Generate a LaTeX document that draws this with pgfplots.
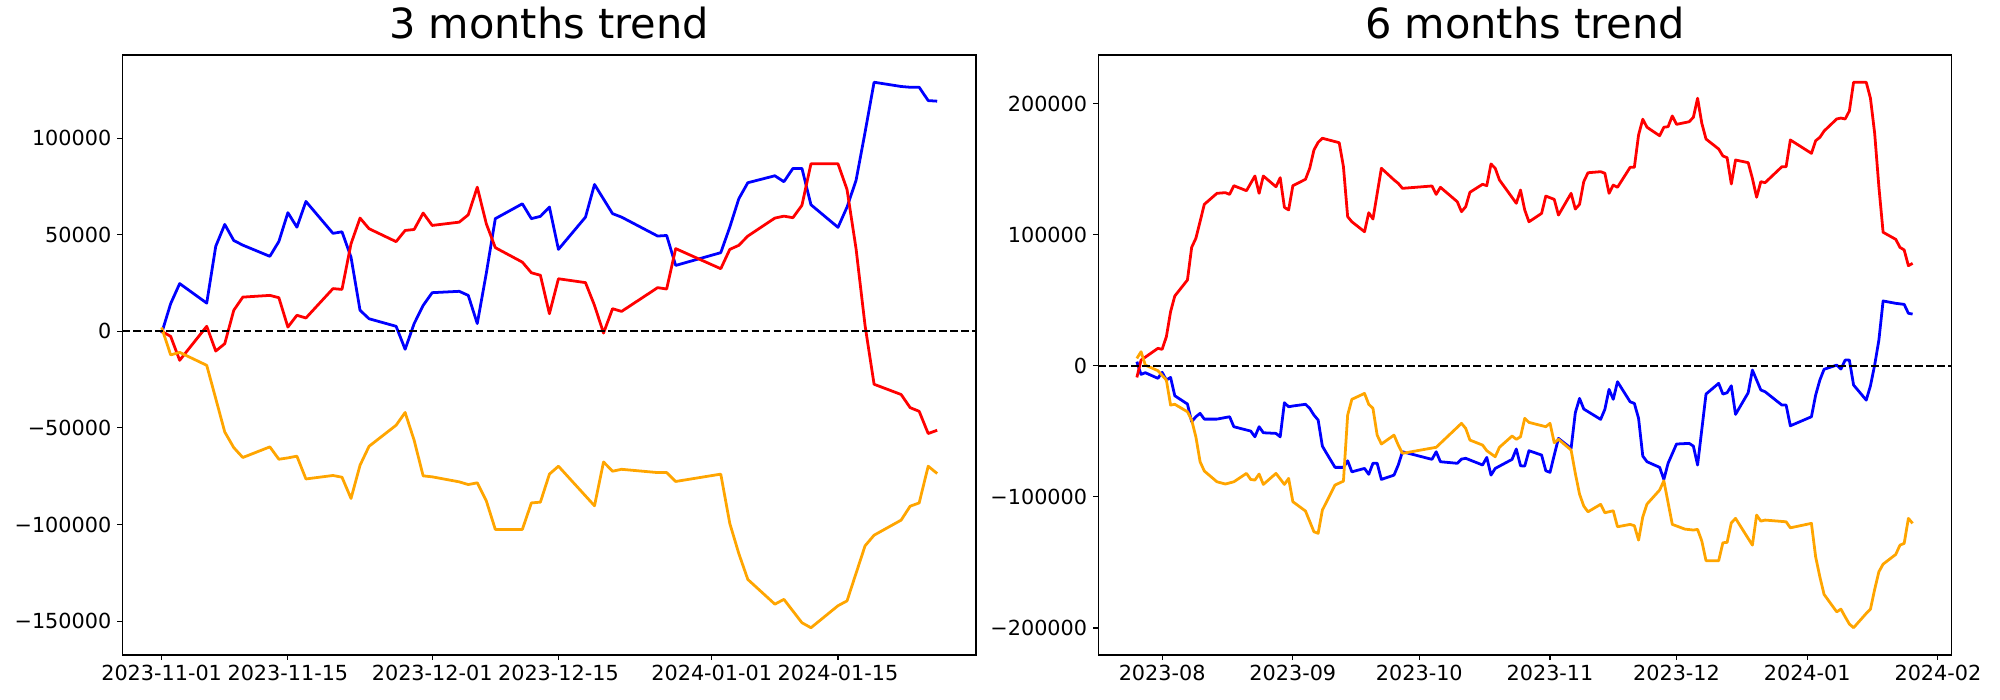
\documentclass[border=0pt]{standalone}
\usepackage{fontspec}
\setmainfont{DejaVu Sans}
\usepackage{pgfplots}
\usepackage{pgfplotstable}
\pgfplotsset{compat=1.18}

\definecolor{mplorange}{RGB}{255,165,0}

% 3 months: day counted from 2023-11-01
\pgfplotstableread{
day val
0 -1000
1 14300
2 24700
5 14600
6 44000
7 55300
8 47000
9 44600
12 38800
13 46500
14 61400
15 53900
16 67200
19 50700
20 51500
21 38400
22 10900
23 6500
26 2600
27 -9300
28 4000
29 13400
30 20000
33 20700
34 18600
35 4000
36 30000
37 58300
40 66000
41 58300
42 59500
43 64300
44 42400
47 59100
48 76000
50 60900
51 59100
55 49300
56 49600
57 34100
62 40700
63 53900
64 68600
65 76900
68 80500
69 77400
70 84300
71 84300
72 65500
75 53800
76 64300
77 78100
78 103000
79 128900
82 126700
83 126300
84 126300
85 119400
86 119100
}\shortblue

\pgfplotstableread{
day val
0 0
1 -2600
2 -15000
5 2600
6 -10200
7 -6400
8 10900
9 17700
12 18600
13 17400
14 2200
15 8300
16 6900
19 22100
20 21700
21 45300
22 58600
23 53100
26 46400
27 52200
28 52700
29 61200
30 54800
33 56500
34 60300
35 74600
36 55700
37 43300
40 35800
41 30300
42 29000
43 9100
44 27200
47 25200
48 13400
49 -900
50 11700
51 10300
55 22600
56 21900
57 42800
62 32400
63 42400
64 44500
65 49300
68 58600
69 59600
70 58800
71 65200
72 86700
75 86700
76 73400
77 42800
78 3000
79 -27400
82 -32700
83 -39500
84 -41400
85 -52900
86 -51200
}\shortred

\pgfplotstableread{
day val
0 2000
1 -12200
2 -10900
5 -17600
6 -34800
7 -52100
8 -60200
9 -65300
12 -59800
13 -66200
14 -65500
15 -64600
16 -76400
19 -74600
20 -75500
21 -86500
22 -69300
23 -59500
26 -48600
27 -42000
28 -56400
29 -74800
30 -75300
33 -77900
34 -79300
35 -78400
36 -87700
37 -102500
40 -102500
41 -88800
42 -88400
43 -73900
44 -69800
48 -90300
49 -67600
50 -72400
51 -71400
55 -73100
56 -73100
57 -77700
62 -73900
63 -99400
64 -115000
65 -128400
68 -141200
69 -138700
71 -150800
72 -153400
75 -142000
76 -139500
78 -111000
79 -105500
82 -97700
83 -90500
84 -88800
85 -69800
86 -73600
}\shortorange

% 6 months: day counted from 2023-08-01
\pgfplotstableread{
day val
-6 3100
-5 -6600
-4 -5300
-1 -9600
0 -5000
1 -10900
2 -8900
3 -22900
6 -29200
7 -42700
8 -38900
9 -36300
10 -40700
13 -40700
16 -38900
17 -46500
20 -49000
21 -49800
22 -54200
23 -46500
24 -51100
27 -51600
28 -54200
29 -28200
30 -31300
31 -30700
34 -29400
35 -32500
36 -37600
37 -41400
38 -61300
39 -66800
41 -77500
43 -77500
44 -72500
45 -80900
48 -78300
49 -82800
50 -74400
51 -74400
52 -86700
55 -83400
56 -75700
57 -65600
64 -71400
65 -65600
66 -73200
70 -74400
71 -71200
72 -70600
76 -75700
77 -69900
78 -83400
79 -78300
83 -71400
84 -63500
85 -76300
86 -76500
87 -64800
90 -68100
91 -80100
92 -81300
93 -68100
94 -55400
97 -63000
98 -35800
99 -24900
100 -33000
104 -40900
105 -33300
106 -18000
107 -25600
108 -12200
111 -27500
112 -28700
113 -40100
114 -68900
115 -73200
118 -77500
119 -86700
120 -74400
122 -59700
125 -59200
126 -61300
127 -75700
129 -21600
132 -13400
133 -21600
134 -20600
135 -15300
136 -37100
139 -20600
140 -3300
142 -18500
143 -19800
147 -30000
148 -30000
149 -45800
154 -38900
155 -22400
156 -10900
157 -2700
160 500
161 -2500
162 4300
163 4300
164 -14700
167 -26200
168 -15300
169 500
170 19600
171 49400
174 47600
176 46800
177 40000
178 39400
}\longblue

\pgfplotstableread{
day val
-6 -8900
-5 4300
-1 13300
0 12500
1 22100
2 41200
3 53200
6 65400
7 90300
8 97200
9 110000
10 123100
13 131500
15 132000
16 130700
17 137300
20 133500
22 144700
23 131500
24 144700
27 136500
28 143400
29 120800
30 118800
31 137300
34 142200
35 150600
36 164500
37 170400
38 173500
42 170100
43 151800
44 113700
45 109800
48 102200
49 116700
50 111900
52 150600
55 141700
56 139100
57 135300
64 137100
65 130700
66 136100
70 125100
71 117500
72 121300
73 132300
76 138400
77 137300
78 153900
79 150600
80 141700
84 123900
85 134000
86 118800
87 109800
90 116200
91 129400
93 126900
94 114900
97 131500
98 119500
99 123100
100 140400
101 147200
104 148000
105 146800
106 131500
107 137800
108 136100
111 151300
112 151300
113 176000
114 188000
115 181900
118 175400
119 181900
120 182300
121 190500
122 184100
125 186100
126 189500
127 204000
128 184900
129 172900
132 165300
133 160000
134 158700
135 138600
136 156900
139 154900
140 142900
141 128500
142 140400
143 139600
147 151800
148 151800
149 172200
154 162000
155 171600
156 174200
157 179000
160 188200
161 188900
162 188200
163 194300
164 216200
167 216200
168 204000
169 177300
170 136500
171 101800
174 96400
175 90300
176 88300
177 76300
178 78100
}\longred

\pgfplotstableread{
day val
-6 5600
-5 10700
-4 500
-1 -3800
1 -10900
2 -30000
3 -29400
6 -35100
7 -41400
8 -54200
9 -73200
10 -80300
13 -88500
15 -90200
17 -88500
20 -82100
21 -86700
22 -87200
23 -82600
24 -90500
27 -82100
29 -90500
30 -85900
31 -103700
34 -110800
36 -126600
37 -127800
38 -110100
41 -91000
42 -89500
43 -88000
44 -37600
45 -25600
48 -21100
49 -29400
50 -32500
51 -52900
52 -59700
55 -52900
56 -60500
57 -66800
65 -62200
71 -43900
72 -47800
73 -56700
76 -60500
77 -64800
79 -69400
80 -62200
83 -53600
84 -56100
85 -54200
86 -40100
87 -43200
91 -46500
92 -43900
93 -58700
94 -56100
97 -64300
98 -82100
99 -97900
100 -107000
101 -111400
104 -105700
105 -112100
107 -110600
108 -122800
111 -121000
112 -122000
113 -133000
114 -115200
115 -105500
118 -94800
119 -87700
121 -121000
124 -124600
126 -125300
127 -124800
128 -133700
129 -148700
132 -148700
133 -135000
134 -134700
135 -119800
136 -116400
140 -136800
141 -113900
142 -118500
143 -117700
148 -119000
149 -123600
154 -120200
155 -145700
156 -161000
157 -174400
160 -187700
161 -185600
162 -191500
163 -197000
164 -199800
167 -188900
168 -185600
169 -170600
170 -157100
171 -151300
174 -143900
175 -136800
176 -135500
177 -116400
178 -120200
}\longorange

\pgfplotsset{
  trend/.style={
    scale only axis,
    width=614.7bp, height=432bp,
    anchor=south west,
    axis line style={line width=0.8bp},
    tick align=outside,
    major tick length=3.5bp,
    every tick/.style={black, line width=0.8bp},
    xtick pos=left, ytick pos=left,
    ticklabel style={font=\fontsize{15}{18}\selectfont, inner sep=0pt},
    xticklabel style={yshift=-3.8bp},
    yticklabel style={xshift=-4.2bp},
    title style={font=\fontsize{30}{36}\selectfont, anchor=base, at={(0.5,1)}, yshift=6bp},
    scaled ticks=false,
    every axis plot/.append style={line width=2bp, line join=round},
  },
  zero/.style={black, line width=1.5bp, dash pattern=on 5.55bp off 2.4bp},
}

\begin{document}
\begin{tikzpicture}
\useasboundingbox (0,0) rectangle (1440bp,504bp);

\begin{axis}[trend,
  at={(88bp,32.4bp)},
  title={3 months trend},
  xmin=-4.37, xmax=90.3,
  ymin=-167500, ymax=143000,
  xtick={0,14,30,44,61,75},
  xticklabels={2023-11-01,2023-11-15,2023-12-01,2023-12-15,2024-01-01,2024-01-15},
  ytick={-150000,-100000,-50000,0,50000,100000},
  yticklabels={−150000,−100000,−50000,0,50000,100000},
]
\addplot[blue] table[x=day,y=val] {\shortblue};
\addplot[red] table[x=day,y=val] {\shortred};
\addplot[mplorange] table[x=day,y=val] {\shortorange};
\addplot[zero] coordinates {(-4.37,0) (90.3,0)};
\end{axis}

\begin{axis}[trend,
  at={(790.6bp,32.4bp)},
  title={6 months trend},
  xmin=-15.2, xmax=187.3,
  ymin=-220600, ymax=237000,
  xtick={0,31,61,92,122,153,184},
  xticklabels={2023-08,2023-09,2023-10,2023-11,2023-12,2024-01,2024-02},
  ytick={-200000,-100000,0,100000,200000},
  yticklabels={−200000,−100000,0,100000,200000},
]
\addplot[blue] table[x=day,y=val] {\longblue};
\addplot[red] table[x=day,y=val] {\longred};
\addplot[mplorange] table[x=day,y=val] {\longorange};
\addplot[zero] coordinates {(-15.2,0) (187.3,0)};
\end{axis}
\end{tikzpicture}
\end{document}
